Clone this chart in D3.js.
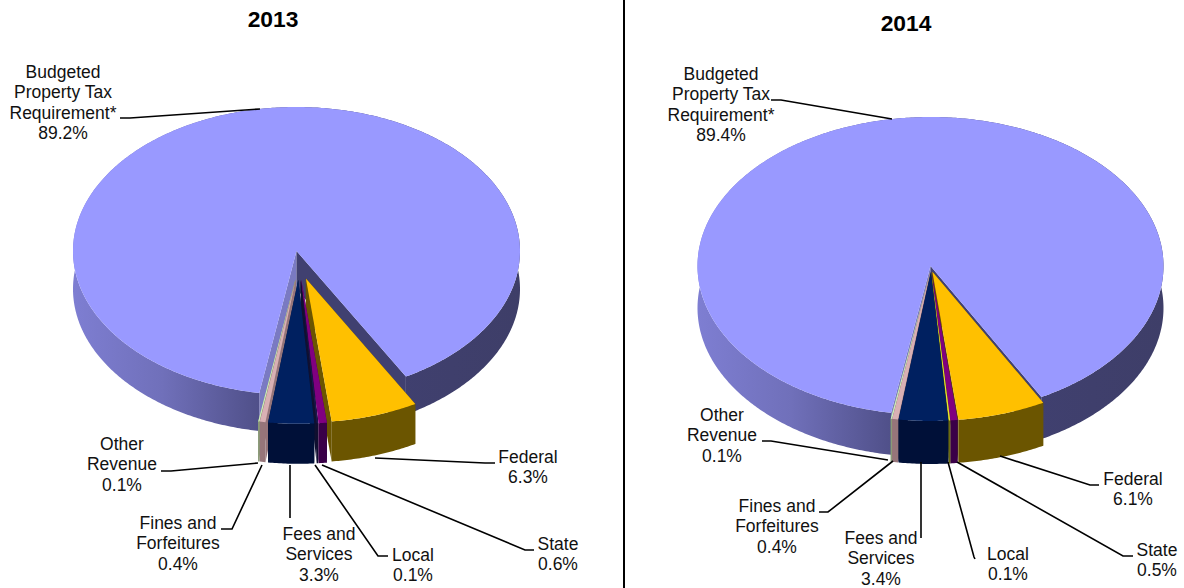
<!DOCTYPE html>
<html><head><meta charset="utf-8">
<style>html,body{margin:0;padding:0;background:#fff}svg{display:block}text{font-family:"Liberation Sans",Arial,sans-serif;fill:#111}</style>
<script src="https://cdn.jsdelivr.net/npm/d3@7/dist/d3.min.js"></script>
</head><body><svg id="c" width="1184" height="588"></svg>
<script>
const categories = ["Federal","State","Local","Fees and Services","Fines and Forfeitures","Other Revenue","Budgeted Property Tax Requirement*"];
const values2013 = [6.3,0.6,0.1,3.3,0.4,0.1,89.2];
const values2014 = [6.1,0.5,0.1,3.4,0.4,0.1,89.4];
const topColors2013  = ["#FFC000","#800080","#1A1A50","#002060","#D9B0B4","#CCEEBB","#9999FF"];
const wallColors2013 = ["#6B5500","#3A0048","#101030","#001038","#96757A","#8A9A78","#404070"];
const topColors2014  = ["#FFC000","#800080","#E8E830","#002060","#D9B0B4","#CCEEBB","#9999FF"];
const wallColors2014 = ["#6B5500","#3A0048","#6B6B10","#001038","#96757A","#8A9A78","#404070"];
const paintOrder = [5,4,0,1,2,3];

const charts = [
 {id:"a",title:"2013",titleX:273,titleY:27,values:values2013,tops:topColors2013,walls:wallColors2013,cx:296.5,cy:251,rx:223.5,ry:144,depth:40,bigDepth:38,start:150.7,explodeX:0.1,explodeY:0.2,shift:2.5,
  labels:[
   {i:6,x:63,y:78,lines:["Budgeted","Property Tax","Requirement*","89.2%"],lead:[[120,118],[130,118],[260,109]]},
   {i:5,x:122,y:450,lines:["Other","Revenue","0.1%"],lead:[[161,471],[171,471],[258,463]]},
   {i:4,x:178,y:529,lines:["Fines and","Forfeitures","0.4%"],lead:[[221,529],[232,529],[262,465]]},
   {i:3,x:319,y:540,lines:["Fees and","Services","3.3%"],lead:[[290,518],[290,465]]},
   {i:2,x:413,y:561,lines:["Local","0.1%"],lead:[[388,556],[378,556],[315,465]]},
   {i:1,x:558,y:550,lines:["State","0.6%"],lead:[[534,550],[525,550],[322,465]]},
   {i:0,x:528,y:463,lines:["Federal","6.3%"],lead:[[495,463],[485,463],[375,458]]}
  ]},
 {id:"b",title:"2014",titleX:906,titleY:31,values:values2014,tops:topColors2014,walls:wallColors2014,cx:930.5,cy:266,rx:233,ry:149,depth:43,bigDepth:42,start:151.6,explodeX:0.02,explodeY:0.04,shift:0.5,
  labels:[
   {i:6,x:721,y:80,lines:["Budgeted","Property Tax","Requirement*","89.4%"],lead:[[771,100],[781,100],[892,119]]},
   {i:5,x:722,y:421,lines:["Other","Revenue","0.1%"],lead:[[762,441],[771,441],[888,460]]},
   {i:4,x:777,y:512,lines:["Fines and","Forfeitures","0.4%"],lead:[[819,512],[828,512],[893,461]]},
   {i:3,x:881,y:544,lines:["Fees and","Services","3.4%"],lead:[[921,538],[921,462]]},
   {i:2,x:1008,y:560,lines:["Local","0.1%"],lead:[[975,559],[974,557],[948,462]]},
   {i:1,x:1157,y:556,lines:["State","0.5%"],lead:[[1133,556],[1123,556],[957,462]]},
   {i:0,x:1133,y:485,lines:["Federal","6.1%"],lead:[[1099,485],[1090,485],[1000,456]]}
  ]}
];

const svg = d3.select("#c");
const defs = svg.append("defs");

charts.forEach(ch=>{
  const toRad = d3.scaleLinear().domain([0,180]).range([0,Math.PI]);
  const pie = d3.pie().sort(null).startAngle(toRad(ch.start)).endAngle(toRad(ch.start+360));
  const arcs = pie(ch.values);

  const sx = d3.scaleLinear().domain([-1,1]).range([ch.cx-ch.rx,ch.cx+ch.rx]);
  const sy = d3.scaleLinear().domain([-1,1]).range([ch.cy-ch.ry,ch.cy+ch.ry]);

  const grad = defs.append("linearGradient").attr("id","wall"+ch.id).attr("gradientUnits","userSpaceOnUse")
    .attr("x1",sx(-1)).attr("x2",sx(1)).attr("y1",0).attr("y2",0);
  [[0,"#7E7ED2"],[0.2,"#7070BA"],[0.42,"#4F4F88"],[0.7,"#404070"],[1,"#3E3E68"]].forEach(s=>grad.append("stop").attr("offset",s[0]).attr("stop-color",s[1]));

  const g = svg.append("g");

  function drawSlice(d,i){
    const isBig = i===6;
    const mid=(d.startAngle+d.endAngle)/2;
    const ox=isBig?0:ch.explodeX*Math.sin(mid)+ch.shift/ch.rx, oy=isBig?0:-ch.explodeY*Math.cos(mid);
    const depth = isBig?ch.bigDepth:ch.depth;
    const px=a=>sx(ox+Math.sin(a)), py=a=>sy(oy-Math.cos(a));
    const steps=Math.max(2,Math.ceil((d.endAngle-d.startAngle)/0.01));
    const angles=d3.range(steps+1).map(k=>d.startAngle+(d.endAngle-d.startAngle)*k/steps);
    const ax=sx(ox), ay=sy(oy);
    const wallFill=isBig?`url(#wall${ch.id})`:ch.walls[i];
    const radial=d3.line();
    [d.startAngle,d.endAngle].forEach((a,k)=>{
      g.append("path").attr("d",radial([[ax,ay],[px(a),py(a)],[px(a),py(a)+depth],[ax,ay+depth]])+"Z")
       .attr("fill",isBig?(k===0?"#7A7AC2":"#404070"):ch.walls[i]);
    });
    const wall=d3.area().x(a=>px(a)).y0(a=>py(a)).y1(a=>py(a)+depth);
    g.append("path").attr("d",wall(angles)).attr("fill",wallFill);
    const top=d3.line().x(a=>px(a)).y(a=>py(a));
    g.append("path").attr("d",top(angles)+`L${ax},${ay}Z`).attr("fill",ch.tops[i]);
  }
  drawSlice(arcs[6],6);
  paintOrder.forEach(i=>drawSlice(arcs[i],i));

  ch.labels.forEach(l=>{
    g.append("path").attr("d",d3.line()(l.lead)).attr("fill","none").attr("stroke","#000").attr("stroke-width",1.6);
    const t=g.append("text").attr("text-anchor","middle").style("font-size","17.5px");
    l.lines.forEach((s,k)=>t.append("tspan").attr("x",l.x).attr("y",l.y+k*20.4).text(s));
  });
  g.append("text").attr("x",ch.titleX).attr("y",ch.titleY).attr("text-anchor","middle").style("font-size","22.8px").style("font-weight","bold").style("fill","#000").text(ch.title);
});
svg.append("line").attr("x1",624).attr("x2",624).attr("y1",0).attr("y2",588).attr("stroke","#000").attr("stroke-width",2);
</script></body></html>
